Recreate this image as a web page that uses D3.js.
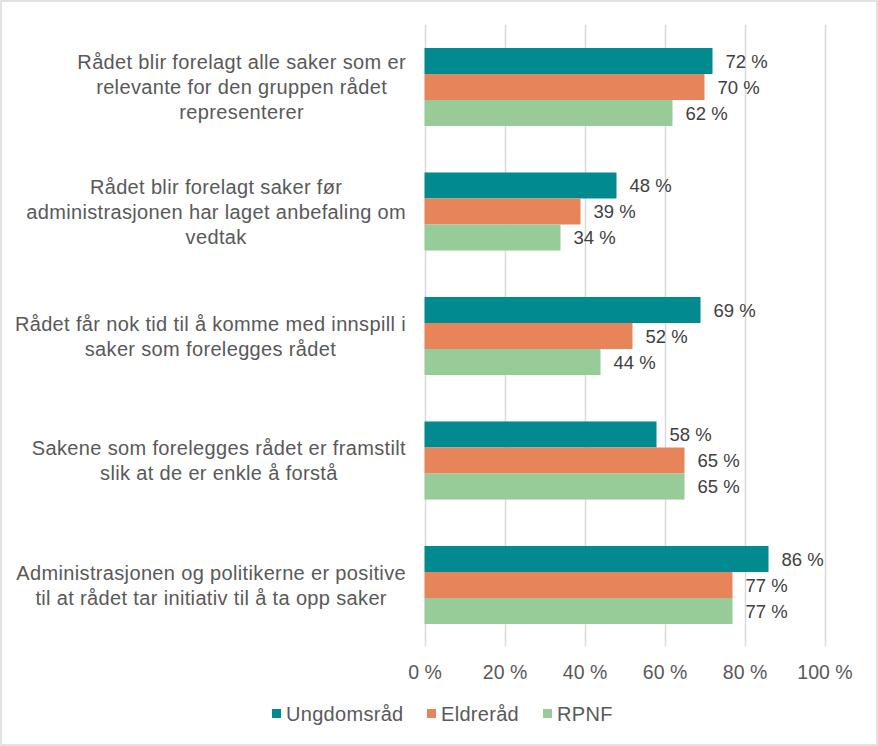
<!DOCTYPE html>
<html>
<head>
<meta charset="utf-8">
<script src="https://cdn.jsdelivr.net/npm/d3@7"></script>
<style>
  html, body { margin: 0; padding: 0; background: #fff; }
  svg { display: block; font-family: "Liberation Sans", Arial, sans-serif; }
</style>
</head>
<body>
<svg id="chart" width="878" height="746"></svg>
<script>
// ---- data ----
const categories = [
  "Rådet blir forelagt alle saker som er relevante for den gruppen rådet representerer",
  "Rådet blir forelagt saker før administrasjonen har laget anbefaling om vedtak",
  "Rådet får nok tid til å komme med innspill i saker som forelegges rådet",
  "Sakene som forelegges rådet er framstilt slik at de er enkle å forstå",
  "Administrasjonen og politikerne er positive til at rådet tar initiativ til å ta opp saker"
];
const categoryLines = [
  ["Rådet blir forelagt alle saker som er", "relevante for den gruppen rådet", "representerer"],
  ["Rådet blir forelagt saker før", "administrasjonen har laget anbefaling om", "vedtak"],
  ["Rådet får nok tid til å komme med innspill i", "saker som forelegges rådet"],
  ["Sakene som forelegges rådet er framstilt", "slik at de er enkle å forstå"],
  ["Administrasjonen og politikerne er positive", "til at rådet tar initiativ til å ta opp saker"]
];
const seriesNames = ["Ungdomsråd", "Eldreråd", "RPNF"];
const ungdomsrad = [0.72, 0.48, 0.69, 0.58, 0.86];
const eldrerad   = [0.70, 0.39, 0.52, 0.65, 0.77];
const rpnf       = [0.62, 0.34, 0.44, 0.65, 0.77];
const seriesValues = [ungdomsrad, eldrerad, rpnf];
const tickValues = [0, 0.2, 0.4, 0.6, 0.8, 1.0];
const colors = ["#028A91", "#E8845A", "#97CB97"];

// ---- layout ----
const svg = d3.select("#chart");
const W = 878, H = 746;
const plotLeft = 424.5, plotRight = 824.5, plotTop = 24.75, plotBottom = 647.25;

svg.append("rect")
  .attr("x", 1).attr("y", 1).attr("width", W - 2).attr("height", H - 2)
  .attr("fill", "#fff").attr("stroke", "#D9D9D9").attr("stroke-width", 1.5);

const x = d3.scaleLinear().domain([0, 1]).range([plotLeft, plotRight]);
const y = d3.scaleBand().domain(categories).range([plotTop, plotBottom])
  .paddingInner(0.373).paddingOuter(0.1865);
const ySub = d3.scaleBand().domain(seriesNames).range([0, y.bandwidth()]).padding(0);

const fmt = v => Math.round(v * 100) + " %";

// gridlines
svg.append("g").selectAll("line").data(tickValues).join("line")
  .attr("x1", d => Math.round(x(d)) + 0.5).attr("x2", d => Math.round(x(d)) + 0.5)
  .attr("y1", plotTop).attr("y2", plotBottom - 1)
  .attr("stroke", "#D9D9D9").attr("stroke-width", 1.5);

// x axis tick labels (via d3 axis)
const xAxis = d3.axisBottom(x).tickValues(tickValues).tickFormat(fmt).tickSize(0).tickPadding(0);
const gx = svg.append("g").attr("transform", `translate(0, 665)`).call(xAxis);
gx.select(".domain").remove();
gx.selectAll("text")
  .attr("font-family", "Liberation Sans, Arial, sans-serif")
  .attr("font-size", 19.5).attr("fill", "#595959").attr("dy", "0.72em");

// bars
seriesNames.forEach((s, si) => {
  const g = svg.append("g");
  const vals = seriesValues[si];
  g.selectAll("rect").data(categories).join("rect")
    .attr("x", x(0))
    .attr("y", (c) => y(c) + ySub(s))
    .attr("width", (c, i) => x(vals[i]) - x(0))
    .attr("height", ySub.bandwidth())
    .attr("fill", colors[si]);
  g.selectAll("text").data(categories).join("text")
    .attr("x", (c, i) => x(vals[i]) + 13)
    .attr("y", (c) => y(c) + ySub(s) + ySub.bandwidth() / 2)
    .attr("dy", "0.36em")
    .attr("font-size", 18.5).attr("fill", "#404040")
    .text((c, i) => fmt(vals[i]));
});

// category labels: lines centred, block right-aligned near the axis
const catG = svg.append("g");
const blockRight = 406;
categories.forEach((c, i) => {
  const lines = categoryLines[i];
  const cy = y(c) + y.bandwidth() / 2;
  const lh = 25;
  const t = catG.append("text")
    .attr("text-anchor", "middle")
    .attr("font-size", 20).attr("letter-spacing", 0.35).attr("fill", "#595959");
  const spans = lines.map((ln, j) => t.append("tspan")
      .attr("y", cy + (j - (lines.length - 1) / 2) * lh)
      .attr("dy", "0.36em")
      .text(ln));
  const maxW = d3.max(spans, sp => sp.node().getComputedTextLength());
  const cx = blockRight - maxW / 2;
  spans.forEach(sp => sp.attr("x", cx));
});

// legend
const legendX = [272, 427, 543];
const lg = svg.append("g");
seriesNames.forEach((s, i) => {
  lg.append("rect").attr("x", legendX[i]).attr("y", 709).attr("width", 9).attr("height", 9)
    .attr("fill", colors[i]);
  lg.append("text").attr("x", legendX[i] + 14).attr("y", 713.5).attr("dy", "0.36em")
    .attr("font-size", 20).attr("letter-spacing", 0.3).attr("fill", "#595959").text(s);
});
</script>
</body>
</html>
